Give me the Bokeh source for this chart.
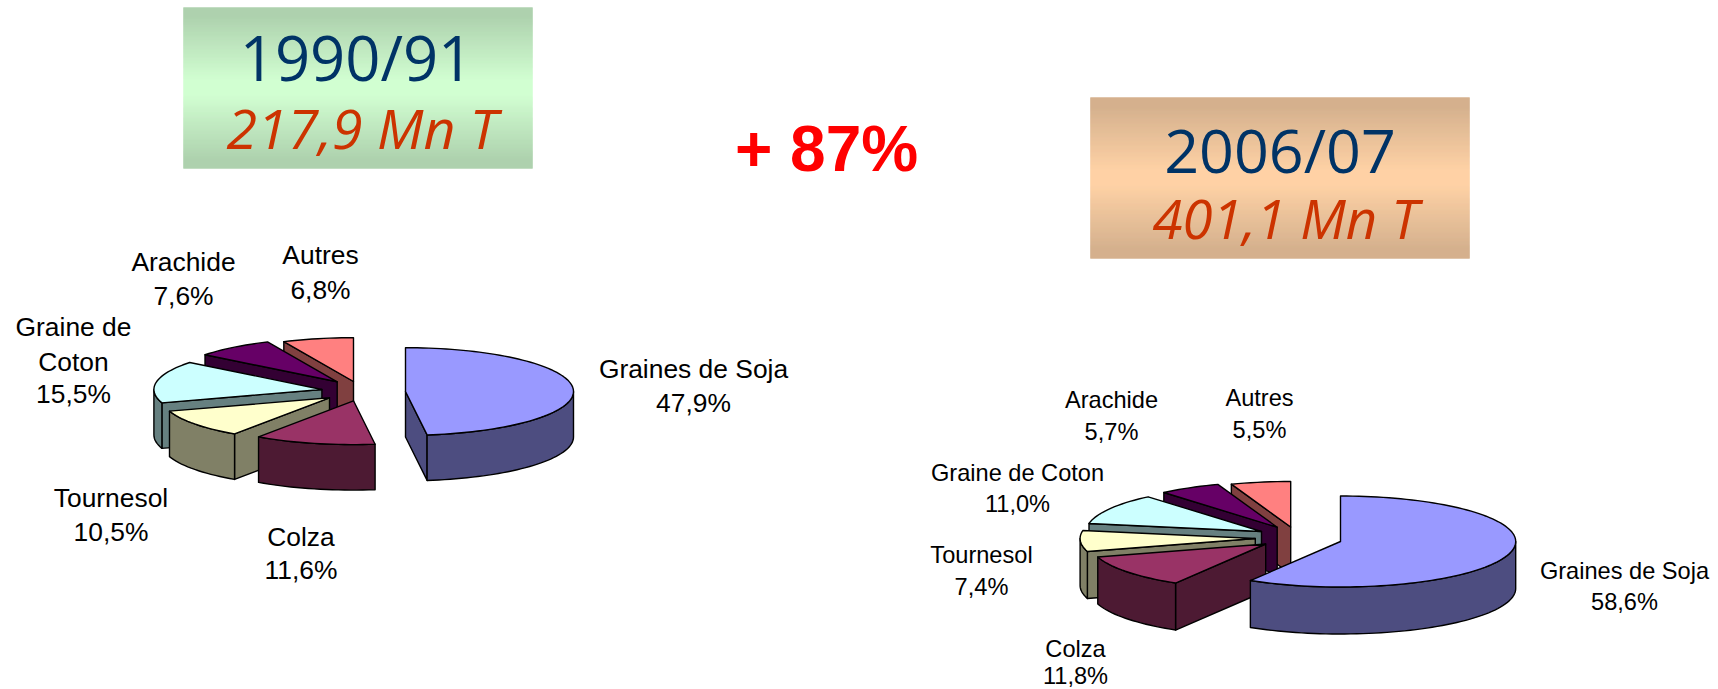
import math
from bokeh.plotting import figure
from bokeh.models import Range1d
from bokeh.core.properties import value
from bokeh.embed import file_html
from bokeh.resources import INLINE

# ---- data
slices_a = ["Graines de Soja", "Colza", "Tournesol", "Graine de Coton", "Arachide", "Autres"]
shares_9091 = [47.9, 11.6, 10.5, 15.5, 7.6, 6.8]
shares_0607 = [58.6, 11.8, 7.4, 11.0, 5.7, 5.5]
title_a, tonnes_a = "1990/91", "217,9 Mn T"
title_b, tonnes_b = "2006/07", "401,1 Mn T"
growth = "+ 87%"

# ---- styles
top_colors = ["#9999FF", "#993366", "#FFFFCC", "#CCFFFF", "#660066", "#FF8080"]
side_colors = ["#4D4D80", "#4D1A33", "#808066", "#668080", "#330033", "#804040"]
W, H = 1718, 689

p = figure(width=W, height=H, x_range=Range1d(0, W), y_range=Range1d(H, 0),
           output_backend="svg", toolbar_location=None, min_border=0,
           outline_line_color=None, background_fill_color="white",
           border_fill_color="white", margin=(0, 0, 0, 0))
p.axis.visible = False
p.grid.visible = False


def arc(cx, cy, rx, ry, a, b, dz=0.0):
    n = max(2, int(abs(b - a) / 2) + 1)
    pts = [a + (b - a) * i / (n - 1) for i in range(n)]
    return ([cx + rx * math.sin(math.radians(t)) for t in pts],
            [cy - ry * math.cos(math.radians(t)) + dz for t in pts])


def pie(shares, apexes, rx, ry, depth):
    xs, ys, fills = [], [], []
    total = sum(shares)
    a = 0.0
    spans = []
    for s in shares:
        b = a + 360.0 * s / total
        spans.append((a, b))
        a = b
    # back to front: Autres first, Soja last
    for i in [5, 4, 3, 2, 1, 0]:
        a, b = spans[i]
        cx, cy = apexes[i]
        # cut faces
        for t, vis in ((a, -math.sin(math.radians(a))), (b, math.sin(math.radians(b)))):
            if vis > 1e-6:
                ex = cx + rx * math.sin(math.radians(t))
                ey = cy - ry * math.cos(math.radians(t))
                xs.append([cx, ex, ex, cx])
                ys.append([cy, ey, ey + depth, cy + depth])
                fills.append(side_colors[i])
        # rim
        lo, hi = max(a, 90.0), min(b, 270.0)
        if hi > lo:
            x1, y1 = arc(cx, cy, rx, ry, lo, hi)
            x2, y2 = arc(cx, cy, rx, ry, lo, hi, depth)
            xs.append(x1 + x2[::-1])
            ys.append(y1 + y2[::-1])
            fills.append(side_colors[i])
        # top
        x1, y1 = arc(cx, cy, rx, ry, a, b)
        xs.append([cx] + x1)
        ys.append([cy] + y1)
        fills.append(top_colors[i])
    p.patches(xs, ys, fill_color=fills, line_color="black", line_width=1.4, line_join="round")


def box(x0, x1, y0, y1, edge, mid):
    ch = lambda c, k: int(c[k:k + 2], 16)
    mid_y = (y0 + y1) / 2
    half = (y1 - y0) / 2
    rows = list(range(y0, y1))
    cols = []
    for y in rows:
        f = max(0.0, min(1.0, (abs(y + 0.5 - mid_y) / half - 0.08) / 0.8))
        cols.append("#%02X%02X%02X" % tuple(round(ch(mid, k) + (ch(edge, k) - ch(mid, k)) * f) for k in (1, 3, 5)))
    p.quad(left=x0, right=x1, top=rows, bottom=[r + 1 for r in rows], fill_color=cols, line_color=cols, line_width=0.3)


def label(x, y, txt, size, font="Liberation Sans", color="black", style="normal"):
    p.text([x], [y], text=[txt], text_font=value(font), text_font_size=f"{size}px",
           text_color=color, text_font_style=style, text_align="center", text_baseline="middle")


def pct(v):
    return f"{v:.1f}".replace(".", ",") + "%"


box(183, 532, 7, 168, "#A3CCA3", "#CCFFCC")
box(1090, 1469, 97, 258, "#CFA67E", "#FFCC99")

label(356, 56.5, title_a, 61.5, "Open Sans", "#003366")
label(361.5, 127, tonnes_a, 55.5, "Open Sans", "#CC3300", "italic")
label(1279.5, 148.5, title_b, 61, "Open Sans", "#003366")
label(1285, 217.5, tonnes_b, 54.5, "Open Sans", "#CC3300", "italic")
label(826, 148, growth, 64, "Liberation Sans", "#FF0000", "bold")

pie(shares_9091,
    [(405, 391), (353, 400.3), (329, 397.3), (321.4, 389), (336.7, 381.3), (353, 381)],
    168, 43.8, 45.5)
pie(shares_0607,
    [(1340, 541), (1265.2, 543.5), (1254.8, 538), (1261, 531), (1276.7, 526.7), (1290.2, 526.5)],
    175.2, 45.5, 47)

# labels, left pie
fs = 26.4
label(693, 368, slices_a[0], fs); label(693, 402, pct(shares_9091[0]), fs)
label(300.5, 536, slices_a[1], fs); label(300.5, 569, pct(shares_9091[1]), fs)
label(110.5, 497, slices_a[2], fs); label(110.5, 531, pct(shares_9091[2]), fs)
label(73, 326, "Graine de", fs); label(73, 361, "Coton", fs); label(73, 393, pct(shares_9091[3]), fs)
label(183, 261, slices_a[4], fs); label(183, 295, pct(shares_9091[4]), fs)
label(320, 254, slices_a[5], fs); label(320, 289, pct(shares_9091[5]), fs)

# labels, right pie
fr = 23.6
label(1624, 570, slices_a[0], fr); label(1624, 601, pct(shares_0607[0]), fr)
label(1075, 648, slices_a[1], fr); label(1075, 675, pct(shares_0607[1]), fr)
label(981, 554, slices_a[2], fr); label(981, 586, pct(shares_0607[2]), fr)
label(1017, 472, slices_a[3], fr); label(1017, 503, pct(shares_0607[3]), fr)
label(1111, 399, slices_a[4], fr); label(1111, 431, pct(shares_0607[4]), fr)
label(1259, 397, slices_a[5], fr); label(1259, 429, pct(shares_0607[5]), fr)

open("out.html", "w").write(file_html(p, INLINE))
